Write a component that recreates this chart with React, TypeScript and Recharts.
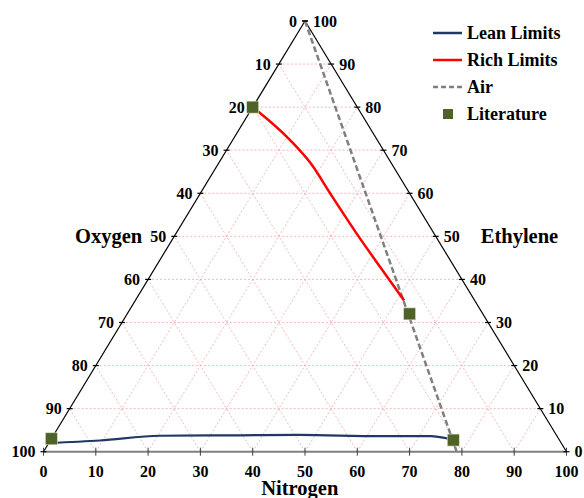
import React from 'react';
import { ComposedChart, XAxis, YAxis, Line, Scatter, ReferenceLine, Legend } from 'recharts';

// Ternary composition data (percent). Oxygen = 100 - nitrogen - ethylene.
const tickValues = [0, 10, 20, 30, 40, 50, 60, 70, 80, 90, 100];

const leanNitrogen = [0, 9.5, 20.4, 35.7, 47, 62.5, 72.2, 76];
const leanEthylene = [2.0, 2.6, 3.7, 3.8, 3.9, 3.6, 3.6, 3.0];

const richNitrogen = [0, 10.9, 18.0, 24.8, 34.5, 42.8, 51.4];
const richEthylene = [80, 72.4, 66.6, 60.0, 50.7, 43.0, 35.1];

const airNitrogen = [0, 79];
const airEthylene = [100, 0];

const litNitrogen = [0, 54, 77, 0];
const litEthylene = [80, 32, 2.7, 3];

const FONT = '"Liberation Serif", "Times New Roman", serif';
const GRID = '#f0a8a8';

const pt = (n: number, e: number) => ({ x: n + e / 2, y: e });
const series = (ns: number[], es: number[]) => ns.map((n, i) => pt(n, es[i]));

const leanData = series(leanNitrogen, leanEthylene);
const richData = series(richNitrogen, richEthylene);
const airData = series(airNitrogen, airEthylene);
const litData = series(litNitrogen, litEthylene);

// axis tick anchor points
const bottomTicks = tickValues.map((v) => ({ ...pt(v, 0), label: v }));
const leftTicks = tickValues.map((v) => ({ ...pt(0, 100 - v), label: v })); // oxygen = v
const rightTicks = tickValues.map((v) => ({ ...pt(100 - v, v), label: v })); // ethylene = v
const inner = tickValues.filter((v) => v > 0 && v < 100);

const txt = { fontFamily: FONT, fontWeight: 700, fill: '#000' } as const;

const BottomTick = (p: any) => (
  <g>
    <line x1={p.cx} x2={p.cx} y1={p.cy - 4} y2={p.cy + 4} stroke="#404040" strokeWidth={1} />
    <text x={p.cx} y={p.cy + 25} textAnchor="middle" fontSize={16} {...txt}>{p.payload.label}</text>
  </g>
);
const LeftTick = (p: any) => (
  <g>
    <line x1={p.cx - 3} x2={p.cx + 3} y1={p.cy} y2={p.cy} stroke="#000" strokeWidth={1.2} />
    <text x={p.cx - 8} y={p.cy + 5.5} textAnchor="end" fontSize={16} {...txt}>{p.payload.label}</text>
  </g>
);
const RightTick = (p: any) => (
  <g>
    <line x1={p.cx - 3} x2={p.cx + 3} y1={p.cy} y2={p.cy} stroke="#000" strokeWidth={1.2} />
    <text x={p.cx + 8} y={p.cy + 5.5} textAnchor="start" fontSize={16} {...txt}>{p.payload.label}</text>
  </g>
);

const titleData = [
  { ...pt(0, 50), label: 'Oxygen', dx: -32, dy: 7, anchor: 'end' },
  { ...pt(50, 50), label: 'Ethylene', dx: 45, dy: 7, anchor: 'start' },
  { ...pt(49, 0), label: 'Nitrogen', dx: 0, dy: 43, anchor: 'middle' },
];
const Title = (p: any) => (
  <text x={p.cx + p.payload.dx} y={p.cy + p.payload.dy} textAnchor={p.payload.anchor} fontSize={20.5} {...txt}>
    {p.payload.label}
  </text>
);

const Square = (p: any) => (
  <rect x={p.cx - 6} y={p.cy - 6} width={12} height={12} fill="#4f6228" stroke="#dde5cc" strokeWidth={0.6} />
);

const legendItems = [
  { name: 'Lean Limits', kind: 'line', color: '#203864', dash: undefined },
  { name: 'Rich Limits', kind: 'line', color: '#ff0000', dash: undefined },
  { name: 'Air', kind: 'line', color: '#808080', dash: '5 3' },
  { name: 'Literature', kind: 'square', color: '#4f6228', dash: undefined },
];

const renderLegend = () => (
  <svg width={164} height={115}>
    {legendItems.map((it, i) => {
      const y = 13 + i * 27;
      return (
        <g key={it.name}>
          {it.kind === 'line' ? (
            <line x1={5} x2={34} y1={y} y2={y} stroke={it.color} strokeWidth={2.5} strokeDasharray={it.dash} />
          ) : (
            <rect x={15} y={y - 5} width={10} height={10} fill={it.color} />
          )}
          <text x={39} y={y + 6} fontSize={18} {...txt}>{it.name}</text>
        </g>
      );
    })}
  </svg>
);

export default function App() {
  return (
    <div style={{ position: 'absolute', left: 8, top: 8 }}>
      <ComposedChart width={576} height={490} margin={{ top: 13, right: 17.5, bottom: 46.3, left: 35.5 }}>
        <XAxis type="number" dataKey="x" domain={[0, 100]} hide />
        <YAxis type="number" dataKey="y" domain={[0, 100]} hide />
        {inner.map((k) => (
          <ReferenceLine key={'h' + k} segment={[pt(0, k), pt(100 - k, k)]} stroke={GRID} strokeWidth={0.8} strokeDasharray="2 2" />
        ))}
        {inner.map((k) => (
          <ReferenceLine key={'n' + k} segment={[pt(k, 0), pt(k, 100 - k)]} stroke={GRID} strokeWidth={0.8} strokeDasharray="2 2" />
        ))}
        {inner.map((k) => (
          <ReferenceLine key={'o' + k} segment={[pt(100 - k, 0), pt(0, 100 - k)]} stroke={GRID} strokeWidth={0.8} strokeDasharray="2 2" />
        ))}
        <ReferenceLine segment={[pt(0, 0), pt(0, 100)]} stroke="#000" strokeWidth={1.2} />
        <ReferenceLine segment={[pt(100, 0), pt(0, 100)]} stroke="#000" strokeWidth={1.2} />
        <ReferenceLine segment={[pt(0, 0), pt(100, 0)]} stroke="#808080" strokeWidth={2} />
        <Scatter data={bottomTicks} shape={BottomTick} isAnimationActive={false} legendType="none" />
        <Scatter data={leftTicks} shape={LeftTick} isAnimationActive={false} legendType="none" />
        <Scatter data={rightTicks} shape={RightTick} isAnimationActive={false} legendType="none" />
        <Scatter data={titleData} shape={Title} isAnimationActive={false} legendType="none" />
        <Line data={airData} dataKey="y" type="linear" stroke="#808080" strokeWidth={2.5} strokeDasharray="6 3" dot={false} isAnimationActive={false} />
        <Line data={leanData} dataKey="y" type="monotone" stroke="#203864" strokeWidth={2.2} dot={false} isAnimationActive={false} />
        <Line data={richData} dataKey="y" type="monotone" stroke="#ff0000" strokeWidth={2.5} dot={false} isAnimationActive={false} />
        <Scatter data={litData} shape={Square} isAnimationActive={false} />
        <Legend
          layout="horizontal"
          verticalAlign="middle"
          align="center"
          content={renderLegend}
          wrapperStyle={{ position: 'absolute', top: 12, left: 420, width: 164, height: 115 }}
        />
      </ComposedChart>
    </div>
  );
}
